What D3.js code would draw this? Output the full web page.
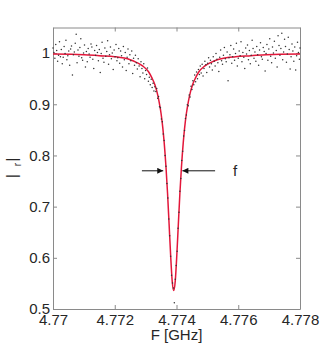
<!DOCTYPE html>
<html>
<head>
<meta charset="utf-8">
<script src="https://cdn.jsdelivr.net/npm/d3@7"></script>
<style>
  body { margin: 0; background: #fff; }
  text { font-family: "Liberation Sans", Arial, Helvetica, sans-serif; fill: #262626; }
</style>
</head>
<body>
<div id="chart"></div>
<script>
// Measured samples [F (GHz), |Gamma_r|]
const samples = [
  [4.77000,1.010],[4.77003,1.001],[4.77006,0.990],[4.77009,1.017],[4.77012,1.005],[4.77015,0.984],[4.77018,0.996],[4.77021,1.022],
  [4.77024,0.993],[4.77027,1.007],[4.77030,0.979],[4.77033,0.992],[4.77036,1.013],[4.77039,0.999],[4.77042,1.025],[4.77045,0.987],
  [4.77048,0.995],[4.77051,1.004],[4.77054,0.976],[4.77057,1.008],[4.77060,1.014],[4.77063,0.957],[4.77066,0.997],[4.77069,1.002],
  [4.77072,1.019],[4.77075,1.037],[4.77078,0.981],[4.77081,1.006],[4.77084,0.994],[4.77087,1.011],[4.77090,1.028],[4.77093,0.991],
  [4.77096,0.986],[4.77099,1.000],[4.77102,1.016],[4.77105,0.973],[4.77108,1.003],[4.77111,0.983],[4.77114,1.009],[4.77117,0.998],
  [4.77120,0.992],[4.77123,1.018],[4.77126,1.012],[4.77129,0.988],[4.77132,0.970],[4.77135,1.005],[4.77138,0.996],[4.77141,1.015],
  [4.77144,1.001],[4.77147,0.985],[4.77150,1.007],[4.77153,0.962],[4.77156,0.999],[4.77159,1.021],[4.77162,0.990],[4.77165,0.982],
  [4.77168,1.010],[4.77171,0.994],[4.77174,1.003],[4.77177,1.024],[4.77180,0.978],[4.77183,0.997],[4.77186,1.012],[4.77189,0.989],
  [4.77192,1.000],[4.77195,0.968],[4.77198,1.006],[4.77201,0.993],[4.77204,1.017],[4.77207,0.985],[4.77210,0.991],[4.77213,1.009],
  [4.77216,0.980],[4.77219,1.004],[4.77222,0.995],[4.77225,0.973],[4.77228,1.013],[4.77231,0.987],[4.77234,1.001],[4.77237,0.966],
  [4.77240,0.992],[4.77243,1.008],[4.77246,0.979],[4.77249,0.997],[4.77252,0.985],[4.77255,1.004],[4.77258,0.960],[4.77261,0.990],
  [4.77264,0.976],[4.77267,0.996],[4.77270,0.981],[4.77273,0.969],[4.77276,0.989],[4.77279,0.975],[4.77282,0.954],[4.77285,0.983],
  [4.77288,0.970],[4.77291,0.961],[4.77294,0.979],[4.77297,0.950],[4.77300,0.966],[4.77303,0.958],[4.77306,0.971],[4.77309,0.945],
  [4.77312,0.953],[4.77315,0.938],[4.77318,0.949],[4.77321,0.933],[4.77324,0.941],[4.77327,0.926],
  [4.77330,0.934],[4.77333,0.925],[4.77336,0.931],[4.77339,0.912],[4.77342,0.915],[4.77345,0.895],[4.77348,0.893],[4.77351,0.871],
  [4.77354,0.866],[4.77357,0.842],[4.77360,0.829],[4.77363,0.800],[4.77366,0.779],[4.77369,0.745],[4.77372,0.717],[4.77375,0.676],
  [4.77378,0.643],[4.77381,0.603],[4.77384,0.566],[4.77387,0.551],[4.77390,0.541],[4.77393,0.512],[4.77396,0.558],[4.77399,0.585],
  [4.77402,0.613],[4.77405,0.658],[4.77408,0.689],[4.77411,0.730],[4.77414,0.755],[4.77417,0.790],[4.77420,0.808],[4.77423,0.838],
  [4.77426,0.849],[4.77429,0.872],[4.77432,0.879],[4.77435,0.899],[4.77438,0.897],[4.77441,0.918],[4.77444,0.914],[4.77447,0.935],
  [4.77450,0.929],[4.77453,0.946],[4.77456,0.938],[4.77459,0.957],[4.77462,0.944],[4.77465,0.963],[4.77468,0.950],[4.77471,0.968],
  [4.77474,0.958],[4.77477,0.975],[4.77480,0.961],[4.77483,0.978],[4.77486,0.955],
  [4.77489,0.970],[4.77492,0.984],[4.77495,0.977],[4.77498,0.962],[4.77501,0.980],[4.77504,0.991],[4.77507,0.973],[4.77510,0.986],
  [4.77513,0.979],[4.77516,0.967],[4.77519,0.993],[4.77522,0.984],[4.77525,0.975],[4.77528,0.999],[4.77531,0.988],[4.77534,0.981],
  [4.77537,0.964],[4.77540,0.992],[4.77543,1.006],[4.77546,0.985],[4.77549,0.978],[4.77552,0.996],[4.77555,1.011],[4.77558,0.989],
  [4.77561,0.983],[4.77564,1.002],[4.77567,0.946],[4.77570,0.991],[4.77573,0.997],[4.77576,1.015],[4.77579,0.980],[4.77582,0.993],
  [4.77585,1.008],[4.77588,0.986],[4.77591,0.999],[4.77594,1.019],[4.77597,0.975],[4.77600,0.990],[4.77603,1.004],[4.77606,0.995],
  [4.77609,1.022],[4.77612,0.983],[4.77615,1.001],[4.77618,0.992],[4.77621,0.970],[4.77624,1.010],[4.77627,0.998],[4.77630,1.016],
  [4.77633,0.987],[4.77636,1.005],[4.77639,0.979],[4.77642,0.996],[4.77645,1.025],[4.77648,1.009],[4.77651,0.990],[4.77654,1.002],
  [4.77657,0.984],[4.77660,1.013],[4.77663,0.997],[4.77666,0.976],[4.77669,1.006],[4.77672,1.020],[4.77675,0.993],[4.77678,0.988],
  [4.77681,1.011],[4.77684,1.003],[4.77687,0.965],[4.77690,0.999],[4.77693,1.017],[4.77696,0.986],[4.77699,1.008],[4.77702,1.028],
  [4.77705,0.994],[4.77708,0.981],[4.77711,1.012],[4.77714,1.000],[4.77717,1.023],[4.77720,0.990],[4.77723,1.005],[4.77726,0.973],
  [4.77729,1.034],[4.77732,1.015],[4.77735,0.996],[4.77738,1.009],[4.77741,1.039],[4.77744,0.987],[4.77747,1.002],[4.77750,1.027],
  [4.77753,1.013],[4.77756,0.982],[4.77759,0.998],[4.77762,1.031],[4.77765,1.007],[4.77768,0.969],[4.77771,0.993],[4.77774,1.018],
  [4.77777,1.004],[4.77780,0.984],[4.77783,1.012],[4.77786,0.967],[4.77789,0.995],[4.77792,1.021],[4.77795,1.001],[4.77798,0.988],
  [4.77800,1.010]
];

// Fitted resonance curve
const fitFreq = [4.7700, 4.7710, 4.7715, 4.7720, 4.7725, 4.7727, 4.7729, 4.7731, 4.7732, 4.7733, 4.7734, 4.77346, 4.7735,
  4.77356, 4.7736, 4.77366, 4.77371, 4.77376, 4.77381, 4.77386, 4.77391, 4.77396, 4.77401, 4.77406, 4.77411,
  4.77416, 4.77422, 4.77426, 4.77432, 4.77436, 4.77442, 4.77452, 4.77462, 4.77472, 4.77492, 4.77512, 4.77532,
  4.77591, 4.77641, 4.77691, 4.7780];
const fitMag = [0.998, 0.997, 0.995, 0.993, 0.987, 0.982, 0.975, 0.963, 0.952, 0.938, 0.916, 0.897, 0.882,
  0.852, 0.826, 0.777, 0.726, 0.666, 0.605, 0.555, 0.536, 0.555, 0.605, 0.666, 0.726,
  0.777, 0.826, 0.852, 0.882, 0.897, 0.916, 0.938, 0.952, 0.963, 0.975, 0.982, 0.987,
  0.993, 0.995, 0.997, 0.998];

const xTicks = [4.770, 4.772, 4.774, 4.776, 4.778];
const xTickLabels = ["4.77", "4.772", "4.774", "4.776", "4.778"];
const yTicks = [0.5, 0.6, 0.7, 0.8, 0.9, 1.0];
const yTickLabels = ["0.5", "0.6", "0.7", "0.8", "0.9", "1"];

// linewidth annotation: level and arrow end frequencies
const widthLevel = 0.77;
const leftArrow = [4.77288, 4.77357];
const rightArrow = [4.77525, 4.77419];
const widthLabelFreq = 4.77583;

const W = 332, H = 349;
const plot = {left: 53, right: 300, top: 27.5, bottom: 309};

const svg = d3.select("#chart").append("svg")
    .attr("width", W)
    .attr("height", H);

const x = d3.scaleLinear().domain([4.770, 4.778]).range([plot.left, plot.right]);
const y = d3.scaleLinear().domain([0.5, 1.05]).range([plot.bottom, plot.top]);

const axisColor = "#8a8a8a";

// axes with inward ticks (MATLAB style box)
const styleAxis = g => {
  g.select(".domain").attr("stroke", axisColor);
  g.selectAll(".tick line").attr("stroke", axisColor);
  g.selectAll(".tick text").attr("fill", "#262626")
    .style("font-family", '"Liberation Sans", Arial, sans-serif').style("font-size", "15px");
};

svg.append("g")
    .attr("transform", `translate(0,${plot.bottom})`)
    .call(d3.axisBottom(x).tickValues(xTicks).tickSizeInner(-4).tickSizeOuter(0).tickPadding(5)
      .tickFormat((d, i) => xTickLabels[i]))
    .call(styleAxis);

svg.append("g")
    .attr("transform", `translate(0,${plot.top})`)
    .call(d3.axisTop(x).tickValues(xTicks).tickSizeInner(-4).tickSizeOuter(0).tickFormat(""))
    .call(styleAxis);

svg.append("g")
    .attr("transform", `translate(${plot.left},0)`)
    .call(d3.axisLeft(y).tickValues(yTicks).tickSizeInner(-4).tickSizeOuter(0).tickPadding(3)
      .tickFormat((d, i) => yTickLabels[i]))
    .call(styleAxis);

svg.append("g")
    .attr("transform", `translate(${plot.right},0)`)
    .call(d3.axisRight(y).tickValues(yTicks).tickSizeInner(-4).tickSizeOuter(0).tickFormat(""))
    .call(styleAxis);

// fit line
const fit = fitFreq.map((f, i) => [f, fitMag[i]]);
svg.append("path")
    .datum(fit)
    .attr("fill", "none")
    .attr("stroke", "#e3173a")
    .attr("stroke-width", 1.5)
    .attr("d", d3.line().x(d => x(d[0])).y(d => y(d[1])).curve(d3.curveMonotoneX));

// measured points
svg.append("g").selectAll("circle")
    .data(samples)
  .enter().append("circle")
    .attr("cx", d => x(d[0]))
    .attr("cy", d => y(d[1]))
    .attr("r", 0.75)
    .attr("fill", "#333");

// arrows marking the linewidth
const defs = svg.append("defs");
defs.append("marker")
    .attr("id", "head")
    .attr("viewBox", "0 0 10 10")
    .attr("refX", 10).attr("refY", 5)
    .attr("markerWidth", 8).attr("markerHeight", 6)
    .attr("markerUnits", "userSpaceOnUse")
    .attr("orient", "auto")
  .append("path")
    .attr("d", "M0,0L10,5L0,10Z")
    .attr("fill", "#111");

[leftArrow, rightArrow].forEach(a => {
  svg.append("line")
      .attr("x1", x(a[0])).attr("x2", x(a[1]))
      .attr("y1", y(widthLevel)).attr("y2", y(widthLevel))
      .attr("stroke", "#111")
      .attr("stroke-width", 1)
      .attr("marker-end", "url(#head)");
});

svg.append("text")
    .attr("x", x(widthLabelFreq))
    .attr("y", y(widthLevel) + 5.5)
    .style("font-size", "15px")
    .text("f");

// axis labels
svg.append("text")
    .attr("x", (plot.left + plot.right) / 2)
    .attr("y", 340)
    .attr("text-anchor", "middle")
    .style("font-size", "15px")
    .text("F [GHz]");

const yl = svg.append("text")
    .attr("transform", "translate(17,178) rotate(-90)")
    .style("font-size", "15px");
yl.append("tspan").text("|");
yl.append("tspan").attr("dx", 7.8).attr("dy", 4).style("font-size", "10px").text("r");
yl.append("tspan").attr("dx", 1.5).attr("dy", -4).text("|");
</script>
</body>
</html>
